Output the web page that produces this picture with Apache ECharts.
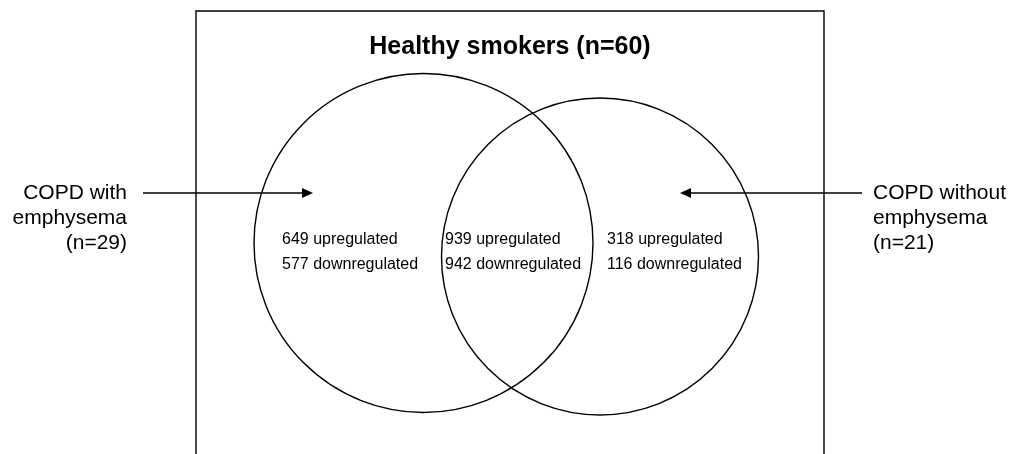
<!DOCTYPE html>
<html>
<head>
<meta charset="utf-8">
<script src="https://cdn.jsdelivr.net/npm/echarts@6/dist/echarts.min.js"></script>
<style>
html,body{margin:0;padding:0;background:#fff;}
#c{width:1012px;height:454px;}
</style>
</head>
<body>
<div id="c"></div>
<script>
// ---- data ----
const healthyLabel = 'Healthy smokers';
const healthyN = 60;
const groupNames = [['COPD with', 'emphysema'], ['COPD without', 'emphysema']];
const groupN = [29, 21];
const regionNames = ['emphysema only', 'both', 'without emphysema only'];
const upregulated = [649, 939, 318];
const downregulated = [577, 942, 116];

// ---- layout (pixel space of a hidden 1012 x 454 grid) ----
const boxL = 196, boxR = 824, boxT = 11;
const titleY = 47;
const circleCx = [423.5, 600];
const circleCy = [243, 256.5];
const circleR = [169.5, 158.5];
const regionX = [282, 445, 607];
const regionY = 240, lineGap = 24.5;
const labelX = [127, 873];
const labelAlign = ['right', 'left'];
const labelY = 193, labelGap = 25;
const arrowFrom = [143, 862];
const arrowTo = [313, 680];

const FONT = 'Arial, "Liberation Sans", sans-serif';
const chart = echarts.init(document.getElementById('c'), null, {renderer: 'canvas'});

function boxRender(params, api) {
  const p0 = api.coord([boxL, 454]);
  const p1 = api.coord([boxL, boxT]);
  const p2 = api.coord([boxR, boxT]);
  const p3 = api.coord([boxR, 454]);
  const t = api.coord([(boxL + boxR) / 2, titleY]);
  return {
    type: 'group',
    children: [
      {type: 'polyline', shape: {points: [p0, p1, p2, p3]}, style: {stroke: '#000', lineWidth: 1.4, fill: null}},
      {type: 'text', x: t[0], y: t[1], style: {text: healthyLabel + ' (n=' + api.value(0) + ')', font: 'bold 25px ' + FONT, fill: '#000', align: 'center', verticalAlign: 'middle'}}
    ]
  };
}

function circleRender(params, api) {
  const i = params.dataIndex;
  const c = api.coord([circleCx[i], circleCy[i]]);
  const r = api.size([circleR[i], 0])[0];
  const y0 = api.coord([0, labelY])[1];
  const a0 = api.coord([arrowFrom[i], labelY]);
  const a1 = api.coord([arrowTo[i], labelY]);
  const dir = a1[0] > a0[0] ? 1 : -1;
  const headL = 11, headW = 5;
  const lx = api.coord([labelX[i], 0])[0];
  const names = groupNames[i];
  const children = [
    {type: 'circle', shape: {cx: c[0], cy: c[1], r: r}, style: {stroke: '#000', lineWidth: 1.4, fill: null}},
    {type: 'line', shape: {x1: a0[0], y1: y0, x2: a1[0] - dir * headL, y2: y0}, style: {stroke: '#000', lineWidth: 1.3}},
    {type: 'polygon', shape: {points: [[a1[0], y0], [a1[0] - dir * headL, y0 - headW], [a1[0] - dir * headL, y0 + headW]]}, style: {fill: '#000'}}
  ];
  const lines = [names[0], names[1], '(n=' + api.value(0) + ')'];
  lines.forEach(function (s, k) {
    children.push({type: 'text', x: lx, y: y0 + k * labelGap, style: {text: s, font: '21px ' + FONT, fill: '#000', align: labelAlign[i], verticalAlign: 'middle'}});
  });
  return {type: 'group', children: children};
}

function regionRender(params, api) {
  const i = params.dataIndex;
  const p = api.coord([regionX[i], regionY]);
  const g = api.size([0, lineGap])[1];
  return {
    type: 'group',
    children: [
      {type: 'text', x: p[0], y: p[1], style: {text: api.value(0) + ' upregulated', font: '16px ' + FONT, fill: '#000', align: 'left', verticalAlign: 'middle'}},
      {type: 'text', x: p[0], y: p[1] + g, style: {text: api.value(1) + ' downregulated', font: '16px ' + FONT, fill: '#000', align: 'left', verticalAlign: 'middle'}}
    ]
  };
}

chart.setOption({
  animation: false,
  backgroundColor: '#fff',
  grid: {left: 0, right: 0, top: 0, bottom: 0},
  xAxis: {type: 'value', min: 0, max: 1012, show: false},
  yAxis: {type: 'value', min: 0, max: 454, inverse: true, show: false},
  series: [
    {type: 'custom', name: 'box', renderItem: boxRender, data: [[healthyN]], silent: true},
    {type: 'custom', name: 'groups', renderItem: circleRender, data: groupN.map(function (n) { return [n]; }), silent: true},
    {type: 'custom', name: 'regions', renderItem: regionRender,
      data: regionNames.map(function (nm, i) { return {name: nm, value: [upregulated[i], downregulated[i]]}; }), silent: true}
  ]
});
</script>
</body>
</html>
